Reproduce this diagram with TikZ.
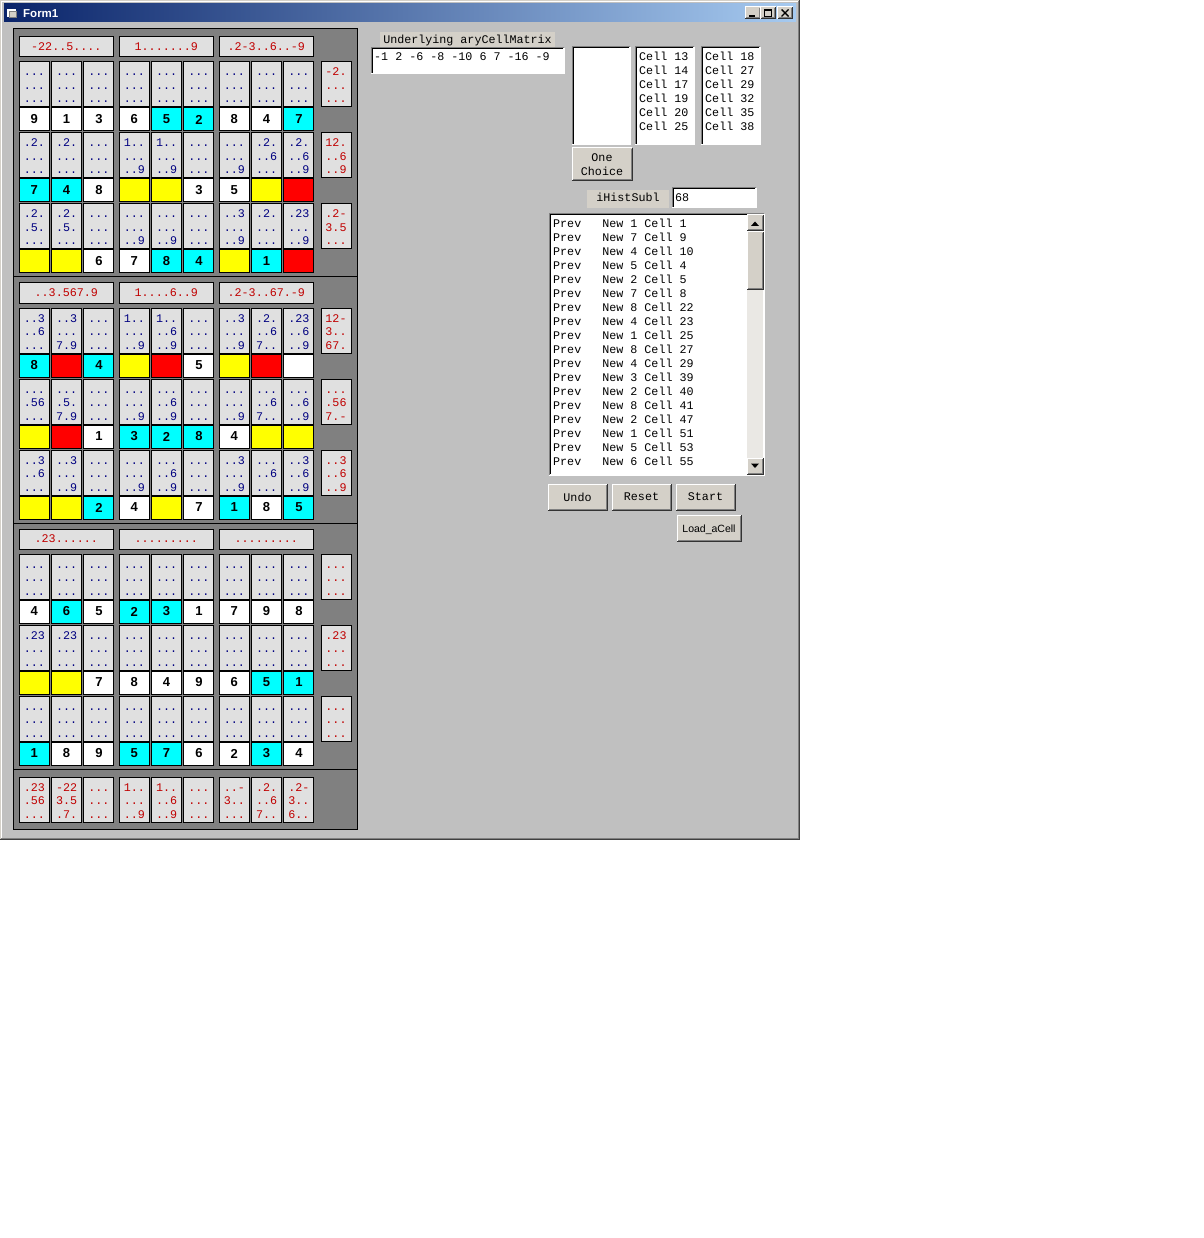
\documentclass[tikz,border=0pt]{standalone}
\usepackage{fontspec}
\setmainfont{Liberation Sans}
\newfontfamily\monof{Liberation Mono}
\definecolor{formbg}{HTML}{C0C0C0}
\definecolor{btnface}{HTML}{D4D0C8}
\definecolor{framebg}{HTML}{808080}
\definecolor{cellbg}{HTML}{E0E0E0}
\definecolor{cblue}{HTML}{000080}
\definecolor{cred}{HTML}{C00000}
\definecolor{tdark}{HTML}{0A246A}
\definecolor{tlight}{HTML}{A6CAF0}
\definecolor{trackc}{HTML}{EAE8E4}
\definecolor{cy}{HTML}{00FFFF}
\definecolor{ye}{HTML}{FFFF00}
\definecolor{rd}{HTML}{FF0000}
\definecolor{wh}{HTML}{FFFFFF}
\def\tmpD{D}
\newcommand\candstr[1]{\edef\csTmp{#1}\ifx\csTmp\tmpD ...\else\csTmp\fi}
\tikzset{
  box/.style={inner sep=0pt, outer sep=0pt, anchor=north west},
  candbox/.style={box, draw=black, fill=cellbg, line width=1pt, minimum width=30pt, minimum height=45pt},
  valbox/.style={box, draw=black, line width=1pt, minimum width=30pt, minimum height=23pt, font=\bfseries\fontsize{13}{13}\selectfont},
  candtxt/.style={anchor=base, inner sep=0pt, text=cblue, font=\monof\fontsize{11.7}{12}\selectfont},
  hinttxt/.style={candtxt, text=cred},
  hdrbox/.style={box, draw=black, fill=cellbg, line width=1pt, minimum width=94pt, minimum height=20pt, text=cred, font=\monof\fontsize{11.7}{12}\selectfont, text height=7.5pt, text depth=0pt},
  mono/.style={font=\monof\fontsize{11.7}{14.5}\selectfont},
  listtxt/.style={anchor=base west, inner sep=0pt, mono},
}
\newcommand\sunk[1]{%
  \draw[gray,line width=1pt] (#1.south west) -- (#1.north west) -- (#1.north east);
  \draw[black,line width=1pt] ([xshift=1pt,yshift=1pt]#1.south west) -- ([xshift=1pt,yshift=-1pt]#1.north west) -- ([xshift=-1pt,yshift=-1pt]#1.north east);
  \draw[white,line width=1pt] (#1.north east) -- (#1.south east) -- (#1.south west);}
\newcommand\rais[1]{%
  \draw[white,line width=1pt] (#1.south west) -- (#1.north west) -- (#1.north east);
  \draw[black!80,line width=1pt] (#1.north east) -- (#1.south east) -- (#1.south west);
  \draw[gray,line width=1pt] ([xshift=-1pt,yshift=-1pt]#1.north east) -- ([xshift=-1pt,yshift=1pt]#1.south east) -- ([xshift=1pt,yshift=1pt]#1.south west);}
\newcommand\drawrow[2]{%
  \pgfmathsetmacro\yy{62+246*int((#1-1)/3)+71*mod(#1-1,3)}%
  \foreach \txa/\txb/\txc/\fillc/\valt [count=\j from 0] in {#2} {%
    \pgfmathsetmacro\xx{19.3+100*int(\j/3)+32.3*mod(\j,3)}%
    \node[candbox] (cand-#1-\j) at (\xx,\yy) {};
    \node[candtxt] (cta-#1-\j) at (\xx+15,\yy+14) {\candstr{\txa}};
    \node[candtxt] (ctb-#1-\j) at (\xx+15,\yy+27.5) {\candstr{\txb}};
    \node[candtxt] (ctc-#1-\j) at (\xx+15,\yy+41) {\candstr{\txc}};
    \node[valbox, fill=\fillc] (val-#1-\j) at (\xx,\yy+46) {\valt};
  }}
\newcommand\drawhint[4]{%
  \pgfmathsetmacro\yy{62+246*int((#1-1)/3)+71*mod(#1-1,3)}%
  \node[candbox] (hint-#1) at (321,\yy) {};
  \node[hinttxt] (hta-#1) at (336,\yy+14) {#2};
  \node[hinttxt] (htb-#1) at (336,\yy+27.5) {#3};
  \node[hinttxt] (htc-#1) at (336,\yy+41) {#4};}
\begin{document}
\begin{tikzpicture}[x=1pt,y=-1pt]
\useasboundingbox (0,0) rectangle (1203,1238);
\fill[white] (0,0) rectangle (1203,1238);
% window
\fill[formbg] (0,0) rectangle (800,840);
\draw[btnface,line width=1pt] (0.5,839.5) -- (0.5,0.5) -- (799.5,0.5);
\draw[white,line width=1pt] (1.5,838.5) -- (1.5,1.5) -- (798.5,1.5);
\draw[black!75,line width=1pt] (799.5,0) -- (799.5,839.5) -- (0,839.5);
\draw[gray,line width=1pt] (798.5,1) -- (798.5,838.5) -- (1,838.5);
\shade[left color=tdark, right color=tlight] (4,4) rectangle (796,22);
% title icon
\fill[white] (7,9) rectangle (16,17);
\fill[gray] (9,11) rectangle (17,18);
\fill[btnface] (10,12) rectangle (16,17);
\node[anchor=base west, inner sep=0pt, text=white, font=\bfseries\fontsize{11.5}{12}\selectfont] (title) at (23,17.5) {Form1};
% control buttons
\node[box, fill=btnface, minimum width=15pt, minimum height=12pt] (bmin) at (745,7) {}; \rais{bmin}
\node[box, fill=btnface, minimum width=15pt, minimum height=12pt] (bmax) at (760.5,7) {}; \rais{bmax}
\node[box, fill=btnface, minimum width=15pt, minimum height=12pt] (bclose) at (777.5,7) {}; \rais{bclose}
\draw[black,line width=2pt] (749,16) -- (755,16);
\draw[black,line width=1pt] (764.5,9.5) rectangle (771.5,16.5);
\draw[black,line width=1pt] (764.5,10.5) -- (771.5,10.5);
\draw[black,line width=1.4pt] (781.5,9.5) -- (788.5,16.5) (781.5,16.5) -- (788.5,9.5);
% frame
\node[box, draw=black, fill=framebg, line width=1pt, minimum width=344pt, minimum height=800pt] (frame) at (13,29) {};
\draw[black,line width=1pt] (13,277) -- (357,277);
\draw[black,line width=1pt] (13,523) -- (357,523);
\draw[black,line width=1pt] (13,769) -- (357,769);
% headers
\node[hdrbox] (hdr-1-1) at (19.3,37) {-22..5....};
\node[hdrbox] (hdr-1-2) at (119.3,37) {1.......9};
\node[hdrbox] (hdr-1-3) at (219.3,37) {.2-3..6..-9};
\node[hdrbox] (hdr-2-1) at (19.3,283) {..3.567.9};
\node[hdrbox] (hdr-2-2) at (119.3,283) {1....6..9};
\node[hdrbox] (hdr-2-3) at (219.3,283) {.2-3..67.-9};
\node[hdrbox] (hdr-3-1) at (19.3,529) {.23......};
\node[hdrbox] (hdr-3-2) at (119.3,529) {.........};
\node[hdrbox] (hdr-3-3) at (219.3,529) {.........};
% rows
\drawrow{1}{D/D/D/wh/9, D/D/D/wh/1, D/D/D/wh/3, D/D/D/wh/6, D/D/D/cy/5, D/D/D/cy/2, D/D/D/wh/8, D/D/D/wh/4, D/D/D/cy/7}
\drawrow{2}{.2./D/D/cy/7, .2./D/D/cy/4, D/D/D/wh/8, 1../D/..9/ye/{}, 1../D/..9/ye/{}, D/D/D/wh/3, D/D/..9/wh/5, .2./..6/D/ye/{}, .2./..6/..9/rd/{}}
\drawrow{3}{.2./.5./D/ye/{}, .2./.5./D/ye/{}, D/D/D/wh/6, D/D/..9/wh/7, D/D/..9/cy/8, D/D/D/cy/4, ..3/D/..9/ye/{}, .2./D/D/cy/1, .23/D/..9/rd/{}}
\drawrow{4}{..3/..6/D/cy/8, ..3/D/7.9/rd/{}, D/D/D/cy/4, 1../D/..9/ye/{}, 1../..6/..9/rd/{}, D/D/D/wh/5, ..3/D/..9/ye/{}, .2./..6/7../rd/{}, .23/..6/..9/wh/{}}
\drawrow{5}{D/.56/D/ye/{}, D/.5./7.9/rd/{}, D/D/D/wh/1, D/D/..9/cy/3, D/..6/..9/cy/2, D/D/D/cy/8, D/D/..9/wh/4, D/..6/7../ye/{}, D/..6/..9/ye/{}}
\drawrow{6}{..3/..6/D/ye/{}, ..3/D/..9/ye/{}, D/D/D/cy/2, D/D/..9/wh/4, D/..6/..9/ye/{}, D/D/D/wh/7, ..3/D/..9/cy/1, D/..6/D/wh/8, ..3/..6/..9/cy/5}
\drawrow{7}{D/D/D/wh/4, D/D/D/cy/6, D/D/D/wh/5, D/D/D/cy/2, D/D/D/cy/3, D/D/D/wh/1, D/D/D/wh/7, D/D/D/wh/9, D/D/D/wh/8}
\drawrow{8}{.23/D/D/ye/{}, .23/D/D/ye/{}, D/D/D/wh/7, D/D/D/wh/8, D/D/D/wh/4, D/D/D/wh/9, D/D/D/wh/6, D/D/D/cy/5, D/D/D/cy/1}
\drawrow{9}{D/D/D/cy/1, D/D/D/wh/8, D/D/D/wh/9, D/D/D/cy/5, D/D/D/cy/7, D/D/D/wh/6, D/D/D/wh/2, D/D/D/cy/3, D/D/D/wh/4}
% row hints
\drawhint{1}{-2.}{...}{...}
\drawhint{2}{12.}{..6}{..9}
\drawhint{3}{.2-}{3.5}{...}
\drawhint{4}{12-}{3..}{67.}
\drawhint{5}{...}{.56}{7.-}
\drawhint{6}{..3}{..6}{..9}
\drawhint{7}{...}{...}{...}
\drawhint{8}{.23}{...}{...}
\drawhint{9}{...}{...}{...}
% column hints
\foreach \txa/\txb/\txc [count=\j from 0] in {.23/.56/D, -22/3.5/.7., D/D/D, 1../D/..9, 1../..6/..9, D/D/D, ..-/3../D, .2./..6/7.., .2-/3../6..} {%
  \pgfmathsetmacro\xx{19.3+100*int(\j/3)+32.3*mod(\j,3)}%
  \node[candbox] (colh-\j) at (\xx,777) {};
  \node[hinttxt] (cha-\j) at (\xx+15,791) {\candstr{\txa}};
  \node[hinttxt] (chb-\j) at (\xx+15,804.5) {\candstr{\txb}};
  \node[hinttxt] (chc-\j) at (\xx+15,818) {\candstr{\txc}};
}
% right side
\node[box, fill=btnface, minimum width=175pt, minimum height=16pt, mono, text height=8pt, text depth=0pt] (lblmat) at (380,32) {Underlying aryCellMatrix};
\node[box, fill=white, minimum width=193pt, minimum height=26pt] (tbmat) at (371,48) {}; \sunk{tbmat}
\node[listtxt] (tbmattxt) at (374,61) {-1 2 -6 -8 -10 6 7 -16 -9};
\node[box, fill=white, minimum width=58pt, minimum height=98pt] (lst1) at (572,47) {}; \sunk{lst1}
\node[box, fill=white, minimum width=59pt, minimum height=98pt] (lst2) at (635,47) {}; \sunk{lst2}
\node[box, fill=white, minimum width=59pt, minimum height=98pt] (lst3) at (701,47) {}; \sunk{lst3}
\foreach \cc [count=\k from 0] in {13,14,17,19,20,25} {\node[listtxt] (la-\k) at (639,60.5+14*\k) {Cell \cc};}
\foreach \cc [count=\k from 0] in {18,27,29,32,35,38} {\node[listtxt] (lb-\k) at (705,60.5+14*\k) {Cell \cc};}
\node[box, fill=btnface, minimum width=60pt, minimum height=33pt, mono, align=center] (onech) at (572,148) {One\\Choice}; \rais{onech}
\node[box, fill=btnface, minimum width=82pt, minimum height=18pt, mono, text height=7.5pt, text depth=2.5pt] (lblhist) at (587,190) {iHistSubl};
\node[box, fill=white, minimum width=84pt, minimum height=20pt] (tbhist) at (672,188) {}; \sunk{tbhist}
\node[listtxt] (tbhisttxt) at (675,202) {68};
\node[box, fill=white, minimum width=215pt, minimum height=261pt] (biglist) at (549,214) {}; \sunk{biglist}
\foreach \nn/\cc [count=\k from 0] in {1/1,7/9,4/10,5/4,2/5,7/8,8/22,4/23,1/25,8/27,4/29,3/39,2/40,8/41,2/47,1/51,5/53,6/55} {%
  \node[listtxt] (li-\k) at (553,227.5+14*\k) {Prev\ \ \ New \nn\ Cell \cc};}
\node[box, fill=trackc, minimum width=16pt, minimum height=243pt] (sbtrack) at (747,231) {};
\node[box, fill=btnface, minimum width=16pt, minimum height=16pt] (sbup) at (747,215) {}; \rais{sbup}
\node[box, fill=btnface, minimum width=16pt, minimum height=58pt] (sbthumb) at (747,232) {}; \rais{sbthumb}
\node[box, fill=btnface, minimum width=16pt, minimum height=16pt] (sbdown) at (747,458) {}; \rais{sbdown}
\fill[black] (751,226) -- (759,226) -- (755,221.5) -- cycle;
\fill[black] (751,463.5) -- (759,463.5) -- (755,468) -- cycle;
\node[box, fill=btnface, minimum width=59pt, minimum height=26pt, mono] (undo) at (548,484) {Undo}; \rais{undo}
\node[box, fill=btnface, minimum width=59pt, minimum height=26pt, mono] (reset) at (612,484) {Reset}; \rais{reset}
\node[box, fill=btnface, minimum width=59pt, minimum height=26pt, mono] (start) at (676,484) {Start}; \rais{start}
\node[box, fill=btnface, minimum width=64pt, minimum height=26pt, font=\fontsize{10.5}{12}\selectfont, text height=8pt, text depth=0pt] (loadc) at (677,515) {Load\_aCell}; \rais{loadc}
\end{tikzpicture}
\end{document}
